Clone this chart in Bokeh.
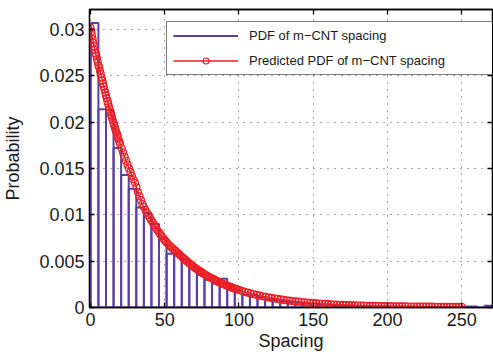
from bokeh.plotting import figure
from bokeh.models import LinearAxis, FixedTicker, Range1d, Legend, LegendItem
from bokeh.embed import file_html
from bokeh.resources import INLINE

# ---------------- data ----------------
bin_start = 0.3
bin_width = 5.1
hist_heights = [
    0.0307, 0.0214, 0.0213, 0.0172, 0.0143, 0.0128, 0.0108, 0.0102, 0.0090, 0.0075,
    0.0058, 0.0058, 0.0052, 0.0043, 0.0035, 0.0030, 0.0026, 0.0031, 0.0020, 0.0018,
    0.0014, 0.0013, 0.0011, 0.0009, 0.0008, 0.0007, 0.0006, 0.0005, 0.0004, 0.0004,
    0.0003, 0.0003, 0.0002, 0.0002, 0.0002, 0.0001, 0.0001, 0.0001, 0.0001, 0.00005,
    0.0001, 0.00005, 0.00005, 0.0, 0.00005, 0.0, 0.0, 0.00005, 0.0, 0.0001,
    0.0001, 0.0, 0.0002,
]
bin_edges = [bin_start + bin_width * k for k in range(len(hist_heights) + 1)]

pdf_x = [i * 0.5 for i in range(41)] + list(range(21, 101)) + list(range(102, 251, 2))
pdf_y = [
    # 0 .. 20 (step 0.5)
    0.03020, 0.02978, 0.02938, 0.02897, 0.02857, 0.02818, 0.02779, 0.02741, 0.02718, 0.02681,
    0.02644, 0.02608, 0.02588, 0.02552, 0.02518, 0.02484, 0.02450, 0.02416, 0.02384, 0.02351,
    0.02319, 0.02288, 0.02257, 0.02226, 0.02196, 0.02166, 0.02137, 0.02108, 0.02079, 0.02051,
    0.02023, 0.01996, 0.01969, 0.01942, 0.01916, 0.01890, 0.01864, 0.01839, 0.01814, 0.01790,
    0.01765,
    # 21 .. 100 (step 1)
    0.01718, 0.01672, 0.01627, 0.01583, 0.01541, 0.01500, 0.01460, 0.01421, 0.01383, 0.01346,
    0.01295, 0.01245, 0.01201, 0.01158, 0.01115, 0.01084, 0.01054, 0.01024, 0.00995, 0.00967,
    0.00940, 0.00914, 0.00888, 0.00863, 0.00838, 0.00815, 0.00791, 0.00769, 0.00747, 0.00726,
    0.00708, 0.00691, 0.00674, 0.00659, 0.00643, 0.00628, 0.00613, 0.00599, 0.00585, 0.00573,
    0.00557, 0.00542, 0.00527, 0.00513, 0.00499, 0.00485, 0.00471, 0.00458, 0.00446, 0.00434,
    0.00422, 0.00411, 0.00400, 0.00389, 0.00378, 0.00368, 0.00358, 0.00348, 0.00339, 0.00329,
    0.00320, 0.00312, 0.00303, 0.00295, 0.00287, 0.00279, 0.00271, 0.00264, 0.00257, 0.00250,
    0.00243, 0.00236, 0.00230, 0.00223, 0.00217, 0.00211, 0.00206, 0.00200, 0.00195, 0.00189,
    # 102 .. 250 (step 2)
    0.00179, 0.00169, 0.00160, 0.00152, 0.00143, 0.00136, 0.00128, 0.00121, 0.00115, 0.00109,
    0.00103, 0.000973, 0.000921, 0.000871, 0.000824, 0.000780, 0.000738, 0.000698, 0.000661, 0.000625,
    0.000591, 0.000559, 0.000529, 0.000501, 0.000474, 0.000450, 0.000426, 0.000403, 0.000382, 0.000362,
    0.000343, 0.000326, 0.000309, 0.000293, 0.000278, 0.000265, 0.000252, 0.000240, 0.000229, 0.000218,
    0.000208, 0.000199, 0.000190, 0.000182, 0.000174, 0.000167, 0.000160, 0.000154, 0.000148, 0.000142,
    0.000137, 0.000132, 0.000127, 0.000122, 0.000118, 0.000114, 0.000110, 0.000106, 0.000103, 0.000100,
    0.000097, 0.000094, 0.000091, 0.000088, 0.000086, 0.000083, 0.000081, 0.000079, 0.000077, 0.000075,
    0.000073, 0.000071, 0.000069, 0.000068, 0.000066,
]

x_ticks = [0, 50, 100, 150, 200, 250]
y_ticks = [0, 0.005, 0.01, 0.015, 0.02, 0.025, 0.03]
y_tick_labels = ["0", "0.005", "0.01", "0.015", "0.02", "0.025", "0.03"]
series_labels = ["PDF of m\u2212CNT spacing", "Predicted PDF of m\u2212CNT spacing"]
x_label = "Spacing"
y_label = "Probability"

# ---------------- styling ----------------
PURPLE = "#5b3fa7"
RED = "#ee1d24"
FONT = "Liberation Sans"
TXT = "#1a1a1a"

p = figure(
    width=493, height=360,
    x_range=Range1d(-0.6, 270.7), y_range=Range1d(0, 0.03215),
    output_backend="svg", toolbar_location=None,
    min_border_left=87, min_border_right=1, min_border_top=9, min_border_bottom=53,
    x_axis_label=x_label, y_axis_label=y_label,
)
p.background_fill_color = "white"
p.border_fill_color = "white"
p.outline_line_color = "black"
p.outline_line_width = 1.3

bars = p.quad(left=bin_edges[:-1], right=bin_edges[1:], bottom=0, top=hist_heights,
              fill_alpha=0, line_color=PURPLE, line_width=2)
curve = p.line(pdf_x, pdf_y, line_color=RED, line_width=1.4)
pts = p.scatter(pdf_x, pdf_y, marker="circle", size=7, fill_alpha=0,
                line_color=RED, line_width=1.2)
# legend-only line sample for the histogram (a single NaN point draws nothing)
legend_hist = p.line([float("nan")], [float("nan")], line_color=PURPLE, line_width=2)

p.xaxis.ticker = FixedTicker(ticks=x_ticks)
p.yaxis.ticker = FixedTicker(ticks=y_ticks)
p.yaxis.major_label_overrides = {v: s for v, s in zip(y_ticks, y_tick_labels)}

for ax in (p.xaxis[0], p.yaxis[0]):
    ax.major_tick_in = 5
    ax.major_tick_out = 0
    ax.minor_tick_line_color = None
    ax.axis_line_width = 1.3
    ax.major_tick_line_width = 1.3
    ax.major_label_text_font = FONT
    ax.major_label_text_font_size = "18px"
    ax.major_label_text_color = TXT
    ax.axis_label_text_font = FONT
    ax.axis_label_text_font_size = "18px"
    ax.axis_label_text_font_style = "normal"
    ax.axis_label_text_color = TXT
    ax.major_label_standoff = 5
p.xaxis.axis_label_standoff = 2
p.yaxis.axis_label_standoff = 13

top_ax = LinearAxis(ticker=FixedTicker(ticks=x_ticks), major_label_text_font_size="1px",
                    major_label_text_color=None,
                    major_tick_in=5, major_tick_out=0, minor_tick_line_color=None,
                    axis_line_width=1.3, major_tick_line_width=1.3, major_label_standoff=0)
right_ax = LinearAxis(ticker=FixedTicker(ticks=y_ticks), major_label_text_font_size="1px",
                      major_label_text_color=None,
                      major_tick_in=5, major_tick_out=0, minor_tick_line_color=None,
                      axis_line_width=1.3, major_tick_line_width=1.3, major_label_standoff=0)
p.add_layout(top_ax, "above")
p.add_layout(right_ax, "right")

p.grid.grid_line_color = "#555555"
p.grid.grid_line_dash = "1 6"
p.grid.grid_line_width = 1

legend = Legend(
    items=[LegendItem(label=series_labels[0], renderers=[legend_hist]),
           LegendItem(label=series_labels[1], renderers=[curve, pts])],
    location=(77, 232), margin=0, padding=6, spacing=10,
    glyph_width=65, glyph_height=15, label_height=15, label_width=237,
    label_standoff=11, label_text_font=FONT, label_text_font_size="13px",
    label_text_color=TXT, border_line_color="black", border_line_width=1.3,
    background_fill_color="white", background_fill_alpha=1,
)
p.add_layout(legend)

open("out.html", "w").write(file_html(p, INLINE))
